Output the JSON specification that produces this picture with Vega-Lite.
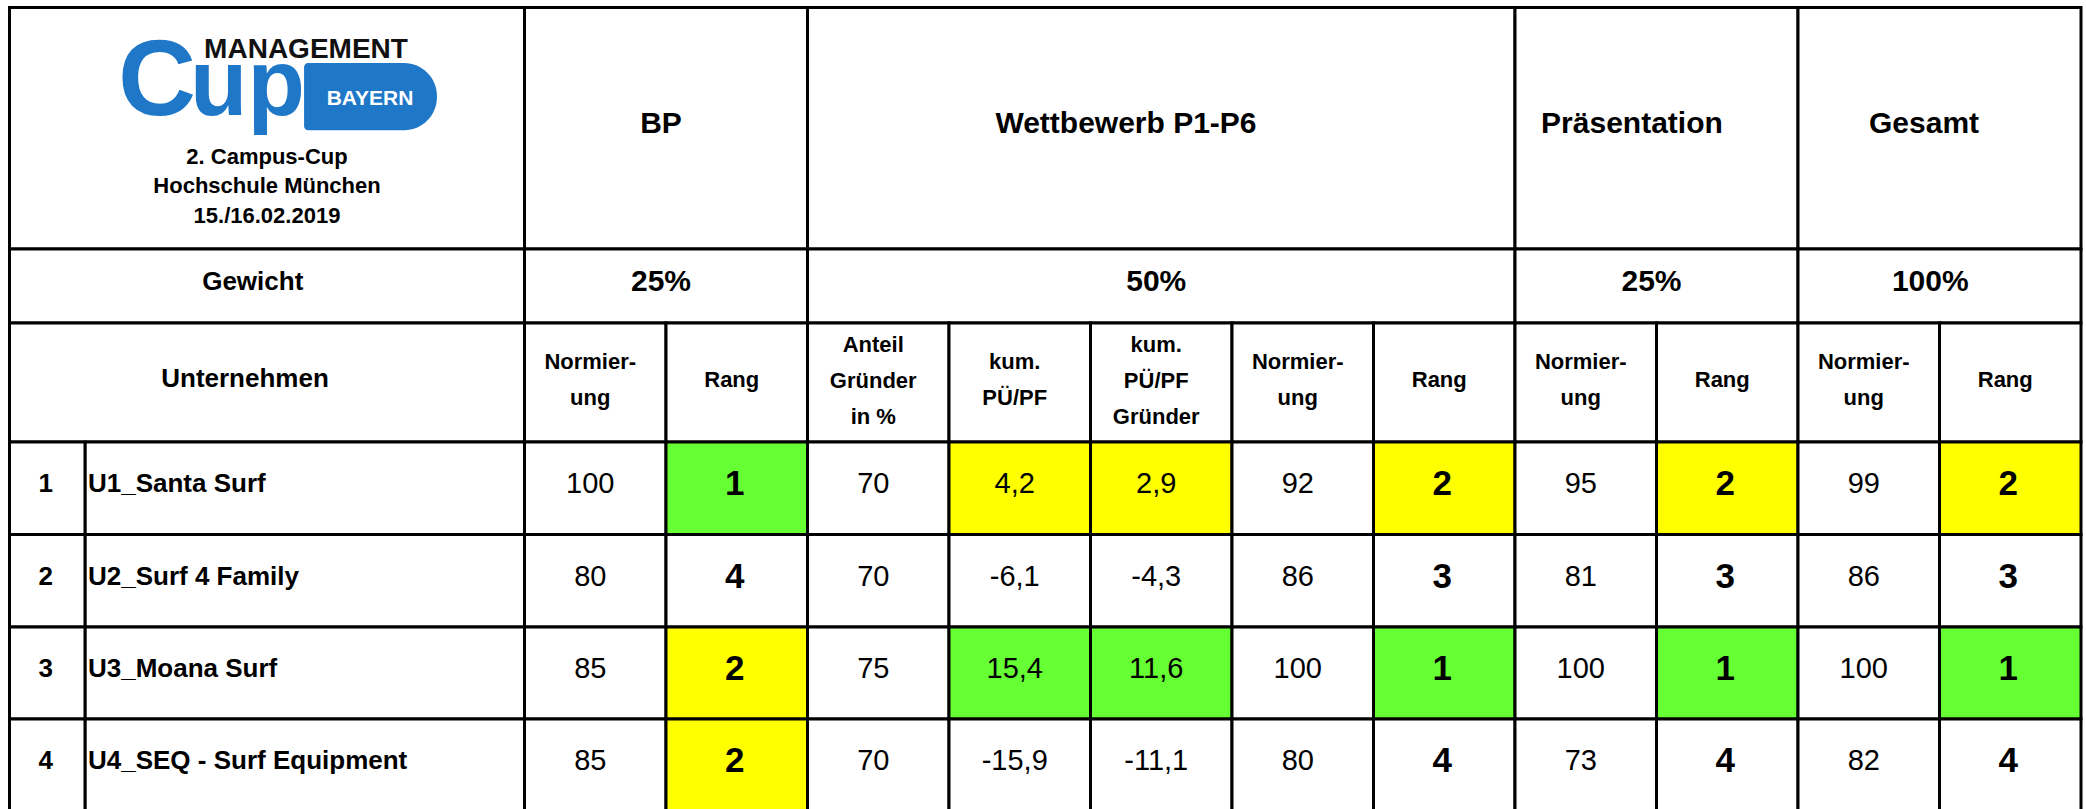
{
  "$schema": "https://vega.github.io/schema/vega-lite/v6.json",
  "width": 2086,
  "height": 809,
  "padding": 0,
  "autosize": {"type": "none"},
  "background": "white",
  "config": {"view": {"stroke": null}, "font": "Liberation Sans"},
  "datasets": {
    "cells": [
      {"x": 0, "x2": 1, "y": 0, "y2": 1, "hl": "none"},
      {"x": 1, "x2": 3, "y": 0, "y2": 1, "hl": "none"},
      {"x": 3, "x2": 8, "y": 0, "y2": 1, "hl": "none"},
      {"x": 8, "x2": 10, "y": 0, "y2": 1, "hl": "none"},
      {"x": 10, "x2": 12, "y": 0, "y2": 1, "hl": "none"},
      {"x": 0, "x2": 1, "y": 1, "y2": 2, "hl": "none"},
      {"x": 1, "x2": 3, "y": 1, "y2": 2, "hl": "none"},
      {"x": 3, "x2": 8, "y": 1, "y2": 2, "hl": "none"},
      {"x": 8, "x2": 10, "y": 1, "y2": 2, "hl": "none"},
      {"x": 10, "x2": 12, "y": 1, "y2": 2, "hl": "none"},
      {"x": 0, "x2": 1, "y": 2, "y2": 3, "hl": "none"},
      {"x": 1, "x2": 2, "y": 2, "y2": 3, "hl": "none"},
      {"x": 2, "x2": 3, "y": 2, "y2": 3, "hl": "none"},
      {"x": 3, "x2": 4, "y": 2, "y2": 3, "hl": "none"},
      {"x": 4, "x2": 5, "y": 2, "y2": 3, "hl": "none"},
      {"x": 5, "x2": 6, "y": 2, "y2": 3, "hl": "none"},
      {"x": 6, "x2": 7, "y": 2, "y2": 3, "hl": "none"},
      {"x": 7, "x2": 8, "y": 2, "y2": 3, "hl": "none"},
      {"x": 8, "x2": 9, "y": 2, "y2": 3, "hl": "none"},
      {"x": 9, "x2": 10, "y": 2, "y2": 3, "hl": "none"},
      {"x": 10, "x2": 11, "y": 2, "y2": 3, "hl": "none"},
      {"x": 11, "x2": 12, "y": 2, "y2": 3, "hl": "none"},

      {"x": 0, "x2": 0.147, "y": 3, "y2": 4, "hl": "none"},
      {"x": 0.147, "x2": 1, "y": 3, "y2": 4, "hl": "none"},
      {"x": 1, "x2": 2, "y": 3, "y2": 4, "hl": "none"},
      {"x": 2, "x2": 3, "y": 3, "y2": 4, "hl": "best"},
      {"x": 3, "x2": 4, "y": 3, "y2": 4, "hl": "none"},
      {"x": 4, "x2": 5, "y": 3, "y2": 4, "hl": "second"},
      {"x": 5, "x2": 6, "y": 3, "y2": 4, "hl": "second"},
      {"x": 6, "x2": 7, "y": 3, "y2": 4, "hl": "none"},
      {"x": 7, "x2": 8, "y": 3, "y2": 4, "hl": "second"},
      {"x": 8, "x2": 9, "y": 3, "y2": 4, "hl": "none"},
      {"x": 9, "x2": 10, "y": 3, "y2": 4, "hl": "second"},
      {"x": 10, "x2": 11, "y": 3, "y2": 4, "hl": "none"},
      {"x": 11, "x2": 12, "y": 3, "y2": 4, "hl": "second"},

      {"x": 0, "x2": 0.147, "y": 4, "y2": 5, "hl": "none"},
      {"x": 0.147, "x2": 1, "y": 4, "y2": 5, "hl": "none"},
      {"x": 1, "x2": 2, "y": 4, "y2": 5, "hl": "none"},
      {"x": 2, "x2": 3, "y": 4, "y2": 5, "hl": "none"},
      {"x": 3, "x2": 4, "y": 4, "y2": 5, "hl": "none"},
      {"x": 4, "x2": 5, "y": 4, "y2": 5, "hl": "none"},
      {"x": 5, "x2": 6, "y": 4, "y2": 5, "hl": "none"},
      {"x": 6, "x2": 7, "y": 4, "y2": 5, "hl": "none"},
      {"x": 7, "x2": 8, "y": 4, "y2": 5, "hl": "none"},
      {"x": 8, "x2": 9, "y": 4, "y2": 5, "hl": "none"},
      {"x": 9, "x2": 10, "y": 4, "y2": 5, "hl": "none"},
      {"x": 10, "x2": 11, "y": 4, "y2": 5, "hl": "none"},
      {"x": 11, "x2": 12, "y": 4, "y2": 5, "hl": "none"},

      {"x": 0, "x2": 0.147, "y": 5, "y2": 6, "hl": "none"},
      {"x": 0.147, "x2": 1, "y": 5, "y2": 6, "hl": "none"},
      {"x": 1, "x2": 2, "y": 5, "y2": 6, "hl": "none"},
      {"x": 2, "x2": 3, "y": 5, "y2": 6, "hl": "second"},
      {"x": 3, "x2": 4, "y": 5, "y2": 6, "hl": "none"},
      {"x": 4, "x2": 5, "y": 5, "y2": 6, "hl": "best"},
      {"x": 5, "x2": 6, "y": 5, "y2": 6, "hl": "best"},
      {"x": 6, "x2": 7, "y": 5, "y2": 6, "hl": "none"},
      {"x": 7, "x2": 8, "y": 5, "y2": 6, "hl": "best"},
      {"x": 8, "x2": 9, "y": 5, "y2": 6, "hl": "none"},
      {"x": 9, "x2": 10, "y": 5, "y2": 6, "hl": "best"},
      {"x": 10, "x2": 11, "y": 5, "y2": 6, "hl": "none"},
      {"x": 11, "x2": 12, "y": 5, "y2": 6, "hl": "best"},

      {"x": 0, "x2": 0.147, "y": 6, "y2": 7, "hl": "none"},
      {"x": 0.147, "x2": 1, "y": 6, "y2": 7, "hl": "none"},
      {"x": 1, "x2": 2, "y": 6, "y2": 7, "hl": "none"},
      {"x": 2, "x2": 3, "y": 6, "y2": 7, "hl": "second"},
      {"x": 3, "x2": 4, "y": 6, "y2": 7, "hl": "none"},
      {"x": 4, "x2": 5, "y": 6, "y2": 7, "hl": "none"},
      {"x": 5, "x2": 6, "y": 6, "y2": 7, "hl": "none"},
      {"x": 6, "x2": 7, "y": 6, "y2": 7, "hl": "none"},
      {"x": 7, "x2": 8, "y": 6, "y2": 7, "hl": "none"},
      {"x": 8, "x2": 9, "y": 6, "y2": 7, "hl": "none"},
      {"x": 9, "x2": 10, "y": 6, "y2": 7, "hl": "none"},
      {"x": 10, "x2": 11, "y": 6, "y2": 7, "hl": "none"},
      {"x": 11, "x2": 12, "y": 6, "y2": 7, "hl": "none"}
    ],
    "texts": [
      {"x": 2, "y": 0.5, "t": "BP", "s": "h"},
      {"x": 5.286, "y": 0.5, "t": "Wettbewerb P1-P6", "s": "h"},
      {"x": 8.862, "y": 0.5, "t": "Präsentation", "s": "h"},
      {"x": 10.926, "y": 0.5, "t": "Gesamt", "s": "h"},
      {"x": 2, "y": 1.5, "t": "25%", "s": "h"},
      {"x": 5.5, "y": 1.5, "t": "50%", "s": "h"},
      {"x": 9, "y": 1.5, "t": "25%", "s": "h"},
      {"x": 10.97, "y": 1.5, "t": "100%", "s": "h"},
      {"x": 0.482, "y": 1.5, "t": "Gewicht", "s": "l"},
      {"x": 0.467, "y": 2.5, "t": "Unternehmen", "s": "l"},
      {"x": 1.5, "y": 2.5, "t": "Normier-\nung", "s": "u2"},
      {"x": 2.5, "y": 2.5, "t": "Rang", "s": "u1"},
      {"x": 3.5, "y": 2.5, "t": "Anteil\nGründer\nin %", "s": "u3"},
      {"x": 4.5, "y": 2.5, "t": "kum.\nPÜ/PF", "s": "u2"},
      {"x": 5.5, "y": 2.5, "t": "kum.\nPÜ/PF\nGründer", "s": "u3"},
      {"x": 6.5, "y": 2.5, "t": "Normier-\nung", "s": "u2"},
      {"x": 7.5, "y": 2.5, "t": "Rang", "s": "u1"},
      {"x": 8.5, "y": 2.5, "t": "Normier-\nung", "s": "u2"},
      {"x": 9.5, "y": 2.5, "t": "Rang", "s": "u1"},
      {"x": 10.5, "y": 2.5, "t": "Normier-\nung", "s": "u2"},
      {"x": 11.5, "y": 2.5, "t": "Rang", "s": "u1"},

      {"x": 0.0705, "y": 3.5, "t": "1", "s": "n"},
      {"x": 0.1524, "y": 3.5, "t": "U1_Santa Surf", "s": "m"},
      {"x": 1.5, "y": 3.5, "t": "100", "s": "v"},
      {"x": 2.5, "y": 3.5, "t": "1", "s": "r"},
      {"x": 3.5, "y": 3.5, "t": "70", "s": "v"},
      {"x": 4.5, "y": 3.5, "t": "4,2", "s": "v"},
      {"x": 5.5, "y": 3.5, "t": "2,9", "s": "v"},
      {"x": 6.5, "y": 3.5, "t": "92", "s": "v"},
      {"x": 7.5, "y": 3.5, "t": "2", "s": "r"},
      {"x": 8.5, "y": 3.5, "t": "95", "s": "v"},
      {"x": 9.5, "y": 3.5, "t": "2", "s": "r"},
      {"x": 10.5, "y": 3.5, "t": "99", "s": "v"},
      {"x": 11.5, "y": 3.5, "t": "2", "s": "r"},

      {"x": 0.0705, "y": 4.5, "t": "2", "s": "n"},
      {"x": 0.1524, "y": 4.5, "t": "U2_Surf 4 Family", "s": "m"},
      {"x": 1.5, "y": 4.5, "t": "80", "s": "v"},
      {"x": 2.5, "y": 4.5, "t": "4", "s": "r"},
      {"x": 3.5, "y": 4.5, "t": "70", "s": "v"},
      {"x": 4.5, "y": 4.5, "t": "-6,1", "s": "v"},
      {"x": 5.5, "y": 4.5, "t": "-4,3", "s": "v"},
      {"x": 6.5, "y": 4.5, "t": "86", "s": "v"},
      {"x": 7.5, "y": 4.5, "t": "3", "s": "r"},
      {"x": 8.5, "y": 4.5, "t": "81", "s": "v"},
      {"x": 9.5, "y": 4.5, "t": "3", "s": "r"},
      {"x": 10.5, "y": 4.5, "t": "86", "s": "v"},
      {"x": 11.5, "y": 4.5, "t": "3", "s": "r"},

      {"x": 0.0705, "y": 5.5, "t": "3", "s": "n"},
      {"x": 0.1524, "y": 5.5, "t": "U3_Moana Surf", "s": "m"},
      {"x": 1.5, "y": 5.5, "t": "85", "s": "v"},
      {"x": 2.5, "y": 5.5, "t": "2", "s": "r"},
      {"x": 3.5, "y": 5.5, "t": "75", "s": "v"},
      {"x": 4.5, "y": 5.5, "t": "15,4", "s": "v"},
      {"x": 5.5, "y": 5.5, "t": "11,6", "s": "v"},
      {"x": 6.5, "y": 5.5, "t": "100", "s": "v"},
      {"x": 7.5, "y": 5.5, "t": "1", "s": "r"},
      {"x": 8.5, "y": 5.5, "t": "100", "s": "v"},
      {"x": 9.5, "y": 5.5, "t": "1", "s": "r"},
      {"x": 10.5, "y": 5.5, "t": "100", "s": "v"},
      {"x": 11.5, "y": 5.5, "t": "1", "s": "r"},

      {"x": 0.0705, "y": 6.5, "t": "4", "s": "n"},
      {"x": 0.1524, "y": 6.5, "t": "U4_SEQ - Surf Equipment", "s": "m"},
      {"x": 1.5, "y": 6.5, "t": "85", "s": "v"},
      {"x": 2.5, "y": 6.5, "t": "2", "s": "r"},
      {"x": 3.5, "y": 6.5, "t": "70", "s": "v"},
      {"x": 4.5, "y": 6.5, "t": "-15,9", "s": "v"},
      {"x": 5.5, "y": 6.5, "t": "-11,1", "s": "v"},
      {"x": 6.5, "y": 6.5, "t": "80", "s": "v"},
      {"x": 7.5, "y": 6.5, "t": "4", "s": "r"},
      {"x": 8.5, "y": 6.5, "t": "73", "s": "v"},
      {"x": 9.5, "y": 6.5, "t": "4", "s": "r"},
      {"x": 10.5, "y": 6.5, "t": "82", "s": "v"},
      {"x": 11.5, "y": 6.5, "t": "4", "s": "r"},

      {"x": 0.5, "y": 0.617, "t": "2. Campus-Cup\nHochschule München\n15./16.02.2019", "s": "i"}
    ],
    "logo": [
      {"x": 0.572, "x2": 0.83, "y": 0.2298, "y2": 0.5085, "t": "", "s": "bar"},
      {"x": 0.2107, "y": 0.445, "t": "C", "s": "cupC"},
      {"x": 0.3505, "y": 0.445, "t": "up", "s": "cupU"},
      {"x": 0.5757, "y": 0.209, "t": "MANAGEMENT", "s": "mg"},
      {"x": 0.7, "y": 0.404, "t": "BAYERN", "s": "by"}
    ]
  },
  "encoding": {
    "x": {"field": "x", "type": "quantitative", "axis": null,
          "scale": {"type": "linear", "domain": [0, 1, 12], "range": [9.5, 524.5, 2081], "nice": false, "zero": false}},
    "y": {"field": "y", "type": "quantitative", "axis": null,
          "scale": {"type": "linear", "domain": [0, 1, 2, 3, 4, 5, 6, 7], "range": [7.5, 249, 323, 442, 534.5, 627, 719, 811.5], "nice": false, "zero": false}}
  },
  "layer": [
    {
      "data": {"name": "cells"},
      "mark": {"type": "rect", "stroke": "#000000", "strokeWidth": 3},
      "encoding": {
        "x2": {"field": "x2"},
        "y2": {"field": "y2"},
        "fill": {"field": "hl", "type": "nominal", "legend": null,
                 "scale": {"domain": ["best", "second", "none"], "range": ["#66ff33", "#ffff00", "#ffffff"]}}
      }
    },
    {
      "data": {"name": "logo"},
      "transform": [{"filter": "datum.s === 'bar'"}],
      "mark": {"type": "rect", "fill": "#1f77c8", "cornerRadiusTopRight": 33, "cornerRadiusBottomRight": 33, "cornerRadiusTopLeft": 4, "cornerRadiusBottomLeft": 4},
      "encoding": {"x2": {"field": "x2"}, "y2": {"field": "y2"}}
    },
    {
      "data": {"name": "logo"},
      "transform": [{"filter": "datum.s === 'cupC'"}],
      "mark": {"type": "text", "font": "Liberation Sans", "fontWeight": "bold", "fontSize": 108, "align": "left", "baseline": "alphabetic", "fill": "#1f77c8"},
      "encoding": {"text": {"field": "t", "type": "nominal"}}
    },
    {
      "data": {"name": "logo"},
      "transform": [{"filter": "datum.s === 'cupU'"}],
      "mark": {"type": "text", "font": "Liberation Sans", "fontWeight": "bold", "fontSize": 94, "align": "left", "baseline": "alphabetic", "fill": "#1f77c8"},
      "encoding": {"text": {"field": "t", "type": "nominal"}}
    },
    {
      "data": {"name": "logo"},
      "transform": [{"filter": "datum.s === 'mg'"}],
      "mark": {"type": "text", "font": "Liberation Sans", "fontWeight": "bold", "fontSize": 28, "align": "center", "baseline": "alphabetic", "fill": "#111111"},
      "encoding": {"text": {"field": "t", "type": "nominal"}}
    },
    {
      "data": {"name": "logo"},
      "transform": [{"filter": "datum.s === 'by'"}],
      "mark": {"type": "text", "font": "Liberation Sans", "fontWeight": "bold", "fontSize": 21, "align": "center", "baseline": "alphabetic", "fill": "#ffffff"},
      "encoding": {"text": {"field": "t", "type": "nominal"}}
    },
    {
      "data": {"name": "texts"},
      "transform": [{"filter": "datum.s === 'i'"}],
      "mark": {"type": "text", "font": "Liberation Sans", "fontWeight": "bold", "fontSize": 22, "align": "center", "baseline": "middle", "lineBreak": "\n", "lineHeight": 29.5, "fill": "#000000"},
      "encoding": {"text": {"field": "t", "type": "nominal"}}
    },
    {
      "data": {"name": "texts"},
      "transform": [{"filter": "datum.s === 'h'"}],
      "mark": {"type": "text", "font": "Liberation Sans", "fontWeight": "bold", "fontSize": 30, "align": "center", "baseline": "middle", "dx": -5, "dy": -4, "fill": "#000000"},
      "encoding": {"text": {"field": "t", "type": "nominal"}}
    },
    {
      "data": {"name": "texts"},
      "transform": [{"filter": "datum.s === 'l'"}],
      "mark": {"type": "text", "font": "Liberation Sans", "fontWeight": "bold", "fontSize": 26, "align": "center", "baseline": "middle", "dx": -5, "dy": -4, "fill": "#000000"},
      "encoding": {"text": {"field": "t", "type": "nominal"}}
    },
    {
      "data": {"name": "texts"},
      "transform": [{"filter": "datum.s === 'n'"}],
      "mark": {"type": "text", "font": "Liberation Sans", "fontWeight": "bold", "fontSize": 26, "align": "center", "baseline": "middle", "dy": -4, "fill": "#000000"},
      "encoding": {"text": {"field": "t", "type": "nominal"}}
    },
    {
      "data": {"name": "texts"},
      "transform": [{"filter": "datum.s === 'm'"}],
      "mark": {"type": "text", "font": "Liberation Sans", "fontWeight": "bold", "fontSize": 26, "align": "left", "baseline": "middle", "dy": -4, "fill": "#000000"},
      "encoding": {"text": {"field": "t", "type": "nominal"}}
    },
    {
      "data": {"name": "texts"},
      "transform": [{"filter": "datum.s === 'u1'"}],
      "mark": {"type": "text", "font": "Liberation Sans", "fontWeight": "bold", "fontSize": 22, "align": "center", "baseline": "middle", "dx": -5, "dy": -3, "fill": "#000000"},
      "encoding": {"text": {"field": "t", "type": "nominal"}}
    },
    {
      "data": {"name": "texts"},
      "transform": [{"filter": "datum.s === 'u2'"}],
      "mark": {"type": "text", "font": "Liberation Sans", "fontWeight": "bold", "fontSize": 22, "align": "center", "baseline": "middle", "lineBreak": "\n", "lineHeight": 36, "dx": -5, "dy": -21, "fill": "#000000"},
      "encoding": {"text": {"field": "t", "type": "nominal"}}
    },
    {
      "data": {"name": "texts"},
      "transform": [{"filter": "datum.s === 'u3'"}],
      "mark": {"type": "text", "font": "Liberation Sans", "fontWeight": "bold", "fontSize": 22, "align": "center", "baseline": "middle", "lineBreak": "\n", "lineHeight": 36, "dx": -5, "dy": -38, "fill": "#000000"},
      "encoding": {"text": {"field": "t", "type": "nominal"}}
    },
    {
      "data": {"name": "texts"},
      "transform": [{"filter": "datum.s === 'v'"}],
      "mark": {"type": "text", "font": "Liberation Sans", "fontSize": 29, "align": "center", "baseline": "middle", "dx": -5, "dy": -4, "fill": "#000000"},
      "encoding": {"text": {"field": "t", "type": "nominal"}}
    },
    {
      "data": {"name": "texts"},
      "transform": [{"filter": "datum.s === 'r'"}],
      "mark": {"type": "text", "font": "Liberation Sans", "fontWeight": "bold", "fontSize": 35, "align": "center", "baseline": "middle", "dx": -2, "dy": -4, "fill": "#000000"},
      "encoding": {"text": {"field": "t", "type": "nominal"}}
    }
  ]
}
